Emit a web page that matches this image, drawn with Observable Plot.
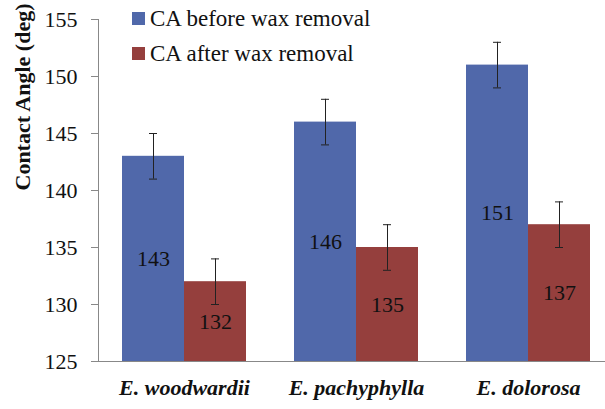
<!DOCTYPE html>
<html>
<head>
<meta charset="utf-8">
<script src="https://cdn.jsdelivr.net/npm/d3@7"></script>
<script src="https://cdn.jsdelivr.net/npm/@observablehq/plot@0.6"></script>
<style>
  html, body { margin: 0; padding: 0; background: #fff; }
  #wrap { position: relative; width: 605px; height: 409px; font-family: 'Liberation Serif', serif; }
  #legend { position: absolute; left: 132px; top: 1px; font-size: 23px; color: #111; line-height: 35px; font-family: 'Liberation Serif', serif; }
  #legend .row { display: flex; align-items: center; white-space: nowrap; }
  #legend .sw { width: 13px; height: 13px; margin-right: 5px; }
</style>
</head>
<body>
<div id="wrap"><div id="legend"></div></div>
<script>
const categories = ["E. woodwardii", "E. pachyphylla", "E. dolorosa"];
const series = ["CA before wax removal", "CA after wax removal"];
const before = [143, 146, 151];
const after = [132, 135, 137];
const errBefore = [2, 2, 2];
const errAfter = [2, 2, 2];
const yTicks = [125, 130, 135, 140, 145, 150, 155];
const colors = ["#5068aa", "#953f3d"];

const FONT = "Liberation Serif";
const yMin = yTicks[0];
const data = categories.flatMap((c, i) => [
  {cat: c, s: series[0], v: before[i], e: errBefore[i]},
  {cat: c, s: series[1], v: after[i], e: errAfter[i]}
]);

const chart = Plot.plot({
  width: 605,
  height: 409,
  marginTop: 19,
  marginBottom: 48,
  marginLeft: 98,
  marginRight: 0,
  style: {fontFamily: FONT, fontSize: "22px", color: "#111", background: "transparent"},
  fx: {domain: categories, range: [98, 614], paddingInner: 0, paddingOuter: 0, label: null},
  x: {domain: series, paddingInner: 0, paddingOuter: 0.376, axis: null},
  y: {domain: [yTicks[0], yTicks[yTicks.length - 1]]},
  color: {domain: series, range: colors},
  marks: [
    Plot.barY(data, {fx: "cat", x: "s", y1: yMin, y2: "v", fill: "s"}),
    Plot.ruleX(data, {fx: "cat", x: "s", y1: d => d.v - d.e, y2: d => d.v + d.e, stroke: "#222", strokeWidth: 1}),
    Plot.tickY(data, {fx: "cat", x: "s", y: d => d.v + d.e, insetLeft: 27, insetRight: 27, stroke: "#222"}),
    Plot.tickY(data, {fx: "cat", x: "s", y: d => d.v - d.e, insetLeft: 27, insetRight: 27, stroke: "#222"}),
    Plot.text(data, {fx: "cat", x: "s", y: d => (yMin + d.v) / 2, text: d => String(d.v), fontSize: 22, fontFamily: FONT, fill: "#111"}),
    Plot.ruleY([yMin], {stroke: "#888"}),
    Plot.frame({anchor: "left", facetAnchor: "left", stroke: "#888"}),
    Plot.axisY({ticks: yTicks, tickSize: 7, tickPadding: 14, stroke: "#888", fill: "#111", fontSize: 22, fontFamily: FONT, label: null}),
    Plot.axisFx({anchor: "bottom", tickSize: 0, tickPadding: 18, fontStyle: "italic", fontWeight: "bold", fontSize: 22, fontFamily: FONT, fill: "#111", label: null}),
    Plot.text(["Contact Angle (deg)"], {frameAnchor: "left", dx: -76, rotate: -90, fontWeight: "bold", fontSize: 22, fontFamily: FONT, fill: "#111", facetAnchor: "left"})
  ]
});

document.getElementById("wrap").appendChild(chart);
const legend = document.getElementById("legend");
series.forEach((s, i) => {
  const row = document.createElement("div");
  row.className = "row";
  const sw = document.createElement("span");
  sw.className = "sw";
  sw.style.background = colors[i];
  const t = document.createElement("span");
  t.textContent = s;
  row.appendChild(sw);
  row.appendChild(t);
  legend.appendChild(row);
});
</script>
</body>
</html>
